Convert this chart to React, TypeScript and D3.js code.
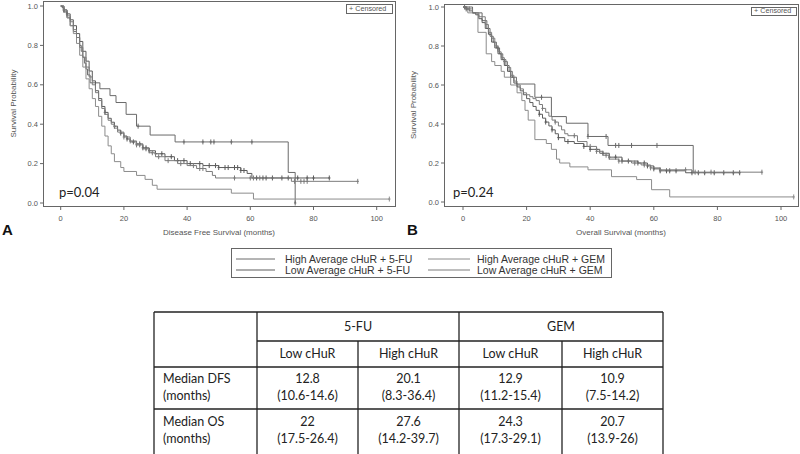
import React, { useEffect, useRef } from 'react';
import * as d3 from 'd3';

type Pt = [number, number];

// Disease free survival, step points [months, survival]
const dfsHi5fu: Pt[] = [[0, 1], [1, 0.97], [2, 0.94], [3, 0.9], [4, 0.87], [5, 0.84], [6, 0.8], [6.5, 0.77], [7, 0.74], [7.5, 0.71], [8, 0.68], [8.5, 0.65], [9.3, 0.61], [12.4, 0.58], [15.6, 0.545], [17.5, 0.51], [20.7, 0.45], [24, 0.39], [28.3, 0.345], [36.2, 0.31], [72, 0.155], [74.2, 0], [74.3, 0]];
const dfsLo5fu: Pt[] = [[0, 1], [0.5, 0.99], [1, 0.98], [2, 0.96], [3, 0.93], [4, 0.9], [5, 0.86], [6, 0.82], [7, 0.77], [8, 0.72], [9, 0.67], [10, 0.62], [11, 0.57], [12, 0.53], [13, 0.49], [14, 0.46], [15, 0.43], [16, 0.41], [17, 0.39], [18, 0.37], [19, 0.355], [20, 0.34], [21, 0.325], [22, 0.31], [24, 0.3], [26, 0.28], [28, 0.265], [30, 0.25], [33, 0.235], [36, 0.215], [40, 0.2], [45, 0.19], [50, 0.18], [57, 0.165], [59, 0.15], [60.5, 0.127], [85, 0.127]];
const dfsHiGem: Pt[] = [[0, 1], [1, 0.97], [2, 0.94], [3, 0.9], [4, 0.86], [5, 0.81], [6, 0.75], [7, 0.69], [8, 0.63], [9, 0.58], [10, 0.53], [11, 0.49], [12, 0.44], [13, 0.39], [14, 0.34], [15, 0.29], [16, 0.25], [17, 0.21], [19, 0.18], [20, 0.16], [24, 0.14], [26.7, 0.12], [29, 0.09], [30.5, 0.07], [54, 0.05], [61, 0.02], [104, 0.02]];
const dfsLoGem: Pt[] = [[0, 1], [1, 0.98], [2, 0.95], [3, 0.92], [4, 0.88], [5, 0.84], [6, 0.79], [7, 0.74], [8, 0.69], [9, 0.64], [10, 0.6], [11, 0.56], [12, 0.52], [13, 0.48], [14, 0.45], [15, 0.42], [16, 0.4], [17, 0.38], [18, 0.36], [20, 0.335], [22, 0.315], [24, 0.295], [26, 0.275], [28, 0.255], [30, 0.235], [33, 0.215], [37, 0.2], [40, 0.19], [43, 0.175], [46, 0.16], [48, 0.14], [49, 0.127], [73, 0.11], [94, 0.11]];

const dfsHi5fuCens = [24.5, 39, 45, 47.5, 48.5, 54, 60.5, 74.2];
const dfsLo5fuCens = [1, 2, 14, 17, 19, 21, 23, 24, 25, 26, 27, 28, 30, 32, 35, 37, 39, 41, 44, 47, 49, 50, 52, 53, 55, 56, 57, 58, 62, 64, 65, 67, 70, 72, 75, 78, 80, 85];
const dfsHiGemCens = [104];
const dfsLoGemCens = [1, 20, 22, 24, 25, 27, 29, 31, 34, 38, 42, 44, 45, 55, 60, 61, 63, 74, 76, 77, 78, 94];

// Overall survival
const osHi5fu: Pt[] = [[0, 1], [3, 0.97], [6, 0.93], [7.5, 0.89], [8.5, 0.85], [9.5, 0.82], [10.5, 0.79], [11.5, 0.76], [12.5, 0.73], [13.5, 0.7], [14.5, 0.67], [15.5, 0.64], [16.8, 0.605], [22.6, 0.537], [27.8, 0.438], [32.5, 0.404], [39.3, 0.336], [45.6, 0.29], [72.4, 0.15], [73, 0.15]];
const osLo5fu: Pt[] = [[0, 1], [1, 0.99], [2, 0.98], [3, 0.97], [4, 0.96], [5, 0.94], [6, 0.92], [7, 0.89], [8, 0.86], [9, 0.82], [10, 0.79], [11, 0.76], [12, 0.73], [13, 0.7], [14, 0.67], [15, 0.64], [16, 0.61], [17, 0.59], [18, 0.57], [19, 0.55], [20, 0.53], [21, 0.51], [22, 0.49], [23, 0.47], [24, 0.45], [25, 0.43], [26, 0.41], [27, 0.39], [28, 0.37], [29, 0.35], [30, 0.33], [32, 0.31], [35, 0.3], [38, 0.285], [40, 0.27], [43, 0.25], [46, 0.23], [50, 0.21], [55, 0.2], [58, 0.185], [60, 0.17], [62, 0.16], [70, 0.15], [87, 0.15]];
const osHiGem: Pt[] = [[0, 1], [1.5, 0.97], [4.7, 0.87], [7.3, 0.76], [9, 0.72], [10, 0.7], [12, 0.67], [13, 0.64], [15, 0.6], [17, 0.56], [18.5, 0.52], [19.5, 0.47], [20.5, 0.42], [22.6, 0.32], [26.2, 0.3], [27.8, 0.27], [29.4, 0.22], [30.4, 0.2], [33.6, 0.18], [39.3, 0.165], [46.7, 0.13], [54.6, 0.115], [59.3, 0.063], [65, 0.026], [104, 0.026]];
const osLoGem: Pt[] = [[0, 1], [1, 0.99], [3, 0.97], [5, 0.95], [7, 0.91], [8, 0.87], [9, 0.84], [10, 0.8], [11, 0.77], [12, 0.74], [13, 0.72], [14, 0.69], [15, 0.65], [16, 0.62], [17, 0.6], [18, 0.58], [19, 0.56], [20, 0.55], [21, 0.54], [22, 0.53], [23, 0.52], [24, 0.5], [25, 0.48], [26, 0.46], [27, 0.44], [28, 0.42], [29, 0.41], [30, 0.39], [31, 0.37], [32, 0.35], [33, 0.34], [36, 0.31], [39, 0.285], [42, 0.26], [44, 0.24], [46, 0.22], [49, 0.21], [53, 0.2], [56, 0.19], [59, 0.175], [62, 0.165], [72, 0.153], [94, 0.153]];

const osHi5fuCens = [0.5, 11, 24.7, 39.3, 45, 48, 49, 53, 61];
const osLo5fuCens = [1, 24, 26, 28, 30, 33, 38, 40, 42, 44, 46, 48, 50, 52, 55, 57, 58, 60, 62, 64, 65, 67, 72, 74, 76, 79, 82, 85, 87];
const osHiGemCens = [104];
const osLoGemCens = [2, 13, 25, 29, 35, 40, 42, 45, 49, 54, 57, 59, 62, 70, 73, 78, 94];

const xTicks = [0, 20, 40, 60, 80, 100];
const yTicks = [0, 0.2, 0.4, 0.6, 0.8, 1.0];

const legendLabels = ['High Average cHuR + 5-FU', 'High Average cHuR + GEM', 'Low Average cHuR + 5-FU', 'Low Average cHuR + GEM'];

const tableGroups = ['5-FU', 'GEM'];
const tableSubs = ['Low cHuR', 'High cHuR', 'Low cHuR', 'High cHuR'];
const rowLabels = [['Median DFS', '(months)'], ['Median OS', '(months)']];
const dfsMedians = ['12.8', '20.1', '12.9', '10.9'];
const dfsCI = ['(10.6-14.6)', '(8.3-36.4)', '(11.2-15.4)', '(7.5-14.2)'];
const osMedians = ['22', '27.6', '24.3', '20.7'];
const osCI = ['(17.5-26.4)', '(14.2-39.7)', '(17.3-29.1)', '(13.9-26)'];

const lineColors = ['#6a6a6a', '#8c8c8c', '#5c5c5c', '#7c7c7c'];
const AX = '#666';
const SANS = '"Liberation Sans", Arial, sans-serif';
const CAL = 'Lato, "Open Sans", sans-serif';

const survAt = (c: Pt[], t: number) => {
  let s = c[0][1];
  for (const p of c) if (p[0] <= t) s = p[1];
  return s;
};

const panels = [
  {
    letter: 'A', letterX: 2, frame: [43, 1, 395, 206], x0: 60.7, x1: 376.7, y0: 203, y1: 6,
    yTitleX: 13, xTitle: 'Disease Free Survival (months)', p: 'p=0.04', pX: 59, box: [346, 4, 392, 13],
    curves: [dfsHi5fu, dfsHiGem, dfsLo5fu, dfsLoGem], cens: [dfsHi5fuCens, dfsHiGemCens, dfsLo5fuCens, dfsLoGemCens],
  },
  {
    letter: 'B', letterX: 407, frame: [444, 4, 798, 206], x0: 463, x1: 781, y0: 202, y1: 7,
    yTitleX: 413, xTitle: 'Overall Survival (months)', p: 'p=0.24', pX: 453, box: [751, 7, 796, 15],
    curves: [osHi5fu, osHiGem, osLo5fu, osLoGem], cens: [osHi5fuCens, osHiGemCens, osLo5fuCens, osLoGemCens],
  },
];

const App = () => {
  const ref = useRef<SVGSVGElement>(null);

  useEffect(() => {
    if (!ref.current) return;
    const svg = d3.select(ref.current);
    svg.selectAll('*').remove();

    panels.forEach(pn => {
      const [fl, ft, fr, fb] = pn.frame;
      const x = d3.scaleLinear().domain([0, 100]).range([pn.x0, pn.x1]);
      const y = d3.scaleLinear().domain([0, 1]).range([pn.y0, pn.y1]);
      const g = svg.append('g');

      g.append('rect').attr('x', fl + 0.5).attr('y', ft + 0.5).attr('width', fr - fl).attr('height', fb - ft)
        .attr('fill', 'none').attr('stroke', AX).attr('stroke-width', 1);

      // y ticks
      yTicks.forEach(t => {
        g.append('line').attr('x1', fl - 3).attr('x2', fl).attr('y1', y(t)).attr('y2', y(t)).attr('stroke', AX);
        g.append('text').attr('x', fl - 5).attr('y', y(t) + 2.6).attr('text-anchor', 'end')
          .attr('font-family', SANS).attr('font-size', 7.5).attr('fill', '#555').text(t.toFixed(1));
      });
      xTicks.forEach(t => {
        g.append('line').attr('x1', x(t)).attr('x2', x(t)).attr('y1', fb + 0.5).attr('y2', fb + 4).attr('stroke', AX);
        g.append('text').attr('x', x(t)).attr('y', fb + 15).attr('text-anchor', 'middle')
          .attr('font-family', SANS).attr('font-size', 7.5).attr('fill', '#555').text(t);
      });

      g.append('text').attr('transform', `translate(${pn.yTitleX + 3},${(ft + fb) / 2}) rotate(-90)`)
        .attr('text-anchor', 'middle').attr('font-family', SANS).attr('font-size', 8).attr('fill', '#555')
        .text('Survival Probability');
      g.append('text').attr('x', (fl + fr) / 2).attr('y', fb + 29).attr('text-anchor', 'middle')
        .attr('font-family', SANS).attr('font-size', 8).attr('fill', '#555').text(pn.xTitle);

      g.append('text').attr('x', pn.letterX).attr('y', 235).attr('font-family', SANS).attr('font-weight', 'bold')
        .attr('font-size', 15).attr('fill', '#111').text(pn.letter);

      g.append('text').attr('x', pn.pX).attr('y', 197).attr('font-family', CAL).attr('font-size', 13)
        .attr('fill', '#222').text(pn.p);

      // censored box
      const [bl, bt, br, bb] = pn.box;
      g.append('rect').attr('x', bl + 0.5).attr('y', bt + 0.5).attr('width', br - bl).attr('height', bb - bt)
        .attr('fill', '#fff').attr('stroke', AX);
      g.append('text').attr('x', bl + 3).attr('y', bb - 2).attr('font-family', SANS).attr('font-size', 7.2)
        .attr('fill', '#555').text('+ Censored');

      const line = d3.line<Pt>().x(d => x(d[0])).y(d => y(d[1])).curve(d3.curveStepAfter);
      pn.curves.forEach((c, i) => {
        g.append('path').attr('d', line(c)).attr('fill', 'none').attr('stroke', lineColors[i]).attr('stroke-width', 1);
        pn.cens[i].forEach(t => {
          const cx = x(t), cy = y(survAt(c, t));
          g.append('line').attr('x1', cx).attr('x2', cx).attr('y1', cy - 2.5).attr('y2', cy + 2.5).attr('stroke', lineColors[i]);
          g.append('line').attr('x1', cx - 1.2).attr('x2', cx + 1.2).attr('y1', cy).attr('y2', cy).attr('stroke', lineColors[i]);
        });
      });
    });

    // legend
    const lg = svg.append('g');
    lg.append('rect').attr('x', 231.5).attr('y', 248.5).attr('width', 380).attr('height', 29)
      .attr('fill', 'none').attr('stroke', AX);
    const cols = [[236, 275, 285], [428, 470, 477]];
    legendLabels.forEach((lab, i) => {
      const col = cols[i % 2];
      const ly = i < 2 ? 259 : 270;
      lg.append('line').attr('x1', col[0]).attr('x2', col[1]).attr('y1', ly).attr('y2', ly).attr('stroke', lineColors[i]);
      lg.append('text').attr('x', col[2]).attr('y', ly + 3.8).attr('font-family', SANS).attr('font-size', 10.5)
        .attr('fill', '#333').text(lab);
    });

    // table
    const tb = svg.append('g');
    const L = 154, C1 = 257, C2 = 358, C3 = 459, C4 = 562, R = 663;
    const T = 312, H1 = 341, H2 = 367, D1 = 409, B = 460;
    const ln = (x1: number, y1: number, x2: number, y2: number) =>
      tb.append('line').attr('x1', x1).attr('y1', y1).attr('x2', x2).attr('y2', y2).attr('stroke', '#222').attr('stroke-width', 1.3);
    ln(L, T, R, T); ln(C1, H1, R, H1); ln(L, H2, R, H2); ln(L, D1, R, D1);
    [L, C1, C3, R].forEach(v => ln(v, T, v, B));
    [C2, C4].forEach(v => ln(v, H1, v, B));
    const txt = (tx: number, ty: number, s: string, anchor = 'middle') =>
      tb.append('text').attr('x', tx).attr('y', ty).attr('text-anchor', anchor).attr('font-family', CAL)
        .attr('font-size', 12.5).attr('fill', '#222').text(s);
    txt((C1 + C3) / 2, 331, tableGroups[0]);
    txt((C3 + R) / 2, 331, tableGroups[1]);
    const centers = [(C1 + C2) / 2, (C2 + C3) / 2, (C3 + C4) / 2, (C4 + R) / 2];
    tableSubs.forEach((s, i) => txt(centers[i], 358, s));
    rowLabels.forEach((r, i) => {
      txt(L + 9, i === 0 ? 383 : 426, r[0], 'start');
      txt(L + 9, i === 0 ? 400 : 443, r[1], 'start');
    });
    centers.forEach((cx, i) => {
      txt(cx, 383, dfsMedians[i]); txt(cx, 400, dfsCI[i]);
      txt(cx, 426, osMedians[i]); txt(cx, 443, osCI[i]);
    });
  }, []);

  return (
    <div style={{ position: 'absolute', left: 0, top: 0 }}>
      <svg ref={ref} width={800} height={454} style={{ display: 'block', background: '#fff' }} />
    </div>
  );
};

export default App;
